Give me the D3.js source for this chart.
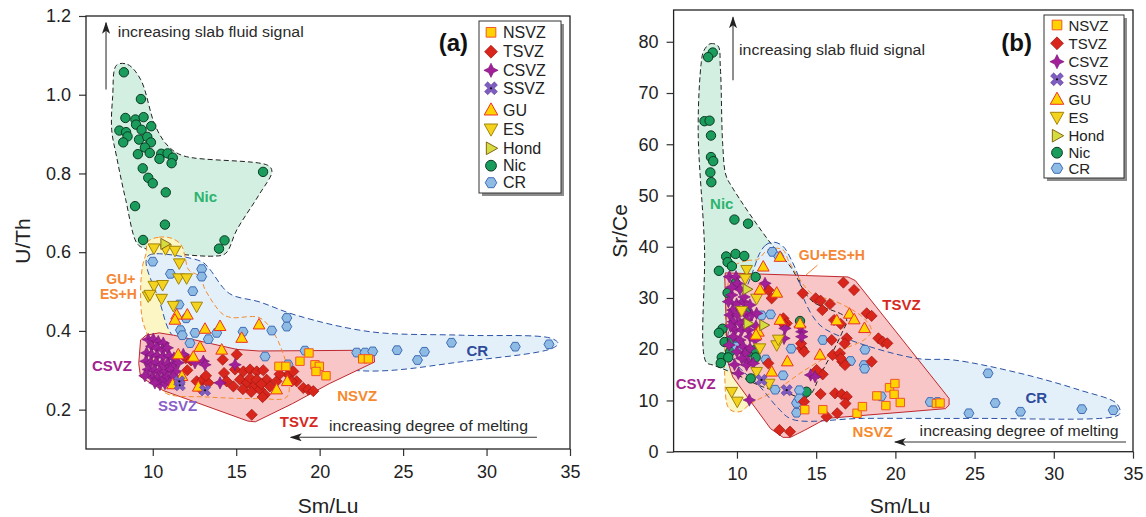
<!DOCTYPE html>
<html>
<head>
<meta charset="utf-8">
<script src="https://cdn.jsdelivr.net/npm/d3@7"></script>
<style>
  body { margin: 0; background: #fff; }
  text { font-family: "Liberation Sans", Arial, Helvetica, sans-serif; }
</style>
</head>
<body>
<svg id="chart" width="1146" height="517"></svg>
<script>
// ---------- shared ----------
var xTicks = [10, 15, 20, 25, 30, 35];
var uthTicks = [0.2, 0.4, 0.6, 0.8, 1.0, 1.2];
var srceTicks = [0, 10, 20, 30, 40, 50, 60, 70, 80];
var legendNames = ["NSVZ", "TSVZ", "CSVZ", "SSVZ", "GU", "ES", "Hond", "Nic", "CR"];

// ---------- panel (a): U/Th vs Sm/Lu ----------
var aNic = [[8.27,1.057],[9.29,0.989],[8.36,0.941],[8.96,0.937],[9.45,0.943],[9.0,0.924],[8.0,0.909],[8.4,0.905],[9.33,0.911],[9.91,0.92],[8.49,0.894],[8.23,0.879],[9.18,0.886],[9.67,0.893],[9.89,0.879],[9.53,0.866],[9.11,0.849],[9.82,0.852],[10.51,0.85],[10.89,0.851],[11.2,0.84],[10.4,0.837],[11.13,0.826],[9.4,0.813],[9.73,0.789],[10.0,0.775],[16.61,0.804],[10.78,0.752],[8.94,0.717],[10.73,0.67],[9.42,0.631],[14.3,0.63],[13.97,0.609]];
var aCR = [[10.0,0.576],[11.06,0.545],[12.93,0.557],[12.93,0.538],[12.4,0.501],[11.57,0.467],[12.0,0.432],[11.66,0.402],[11.77,0.389],[12.53,0.395],[12.23,0.369],[13.33,0.379],[13.83,0.395],[15.41,0.398],[17.13,0.401],[18.03,0.433],[18.03,0.411],[16.73,0.335],[19.12,0.35],[18.1,0.315],[22.22,0.345],[22.72,0.345],[23.18,0.348],[24.64,0.351],[25.86,0.326],[26.28,0.347],[27.9,0.37],[31.72,0.36],[33.74,0.366]];
var aGU = [[11.43,0.441],[11.33,0.428],[12.07,0.441],[13.13,0.405],[14.03,0.412],[15.33,0.382],[16.37,0.416],[12.83,0.359],[14.13,0.352],[11.53,0.34],[12.43,0.334],[11.19,0.264],[12.73,0.258],[17.42,0.251],[18.06,0.272],[11.75,0.285]];
var aES = [[10.07,0.61],[10.77,0.608],[11.33,0.604],[11.59,0.572],[11.55,0.534],[12.03,0.534],[10.07,0.515],[10.59,0.517],[9.73,0.488],[9.83,0.492],[10.53,0.482],[11.23,0.464],[12.63,0.462]];
var aHond = [[10.73,0.621]];
var aNSVZ = [[17.56,0.31],[17.98,0.31],[18.82,0.323],[19.36,0.344],[19.72,0.314],[19.98,0.31],[19.78,0.297],[20.38,0.286],[22.58,0.329],[22.92,0.329]];
var aTSVZ = [[11.99,0.331],[12.29,0.325],[12.07,0.3],[14.19,0.327],[14.27,0.293],[14.43,0.272],[12.63,0.272],[12.99,0.276],[13.33,0.268],[12.83,0.255],[13.19,0.286],[15.03,0.34],[14.93,0.302],[15.43,0.297],[15.83,0.302],[16.23,0.297],[16.62,0.3],[16.82,0.276],[15.23,0.276],[15.63,0.268],[16.03,0.258],[16.42,0.251],[16.72,0.238],[16.58,0.232],[17.02,0.259],[17.42,0.272],[18.12,0.289],[18.42,0.297],[18.62,0.272],[19.02,0.255],[19.32,0.251],[19.62,0.247],[15.93,0.187],[14.83,0.259],[15.83,0.28],[16.23,0.276],[18.32,0.272],[15.4,0.252],[15.9,0.245],[16.5,0.265],[17.6,0.29]];
var aCSVZ = [[9.73,0.378],[10.03,0.379],[10.33,0.373],[10.63,0.369],[9.93,0.361],[10.23,0.357],[10.59,0.352],[10.87,0.357],[9.63,0.344],[9.93,0.34],[10.27,0.337],[10.63,0.335],[10.99,0.337],[11.27,0.331],[9.59,0.323],[9.87,0.319],[10.19,0.32],[10.53,0.314],[10.87,0.317],[11.19,0.314],[11.53,0.319],[9.73,0.302],[10.07,0.3],[10.39,0.297],[10.73,0.297],[11.07,0.302],[11.39,0.297],[9.93,0.283],[10.27,0.28],[10.59,0.278],[10.87,0.283],[11.23,0.285],[10.43,0.264],[10.73,0.266],[10.13,0.268],[11.03,0.269],[9.53,0.286],[11.83,0.34],[12.53,0.319],[13.03,0.323],[13.13,0.314],[14.93,0.314],[14.03,0.268]];
var aSSVZ = [[11.59,0.272],[11.62,0.262],[13.13,0.249]];

var aNicHull = [[7.83,1.075],[8.49,1.077],[9.27,1.039],[10.16,0.92],[10.93,0.869],[11.82,0.845],[16.92,0.82],[17.14,0.805],[16.37,0.746],[15.04,0.657],[14.37,0.597],[13.7,0.59],[9.49,0.61],[9.05,0.623],[8.38,0.733],[7.83,0.843],[7.54,0.911],[7.6,0.996]];
var aGuHull = [[9.71,0.627],[10.38,0.638],[11.15,0.635],[11.71,0.618],[11.93,0.589],[12.15,0.555],[12.82,0.538],[13.15,0.504],[14.15,0.444],[14.7,0.434],[16.37,0.434],[17.14,0.402],[17.81,0.343],[18.14,0.283],[18.03,0.232],[16.37,0.228],[13.26,0.232],[10.82,0.241],[10.38,0.266],[9.71,0.385],[9.38,0.428],[9.27,0.495],[9.38,0.563],[9.6,0.597]];
var aCrHull = [[9.6,0.572],[9.71,0.59],[10.16,0.596],[12.93,0.576],[13.37,0.559],[14.59,0.495],[16.37,0.474],[18.58,0.44],[23.02,0.398],[28.57,0.389],[33.89,0.381],[34.29,0.368],[33.89,0.355],[28.57,0.322],[23.02,0.298],[17.48,0.326],[13.26,0.36],[11.26,0.385],[10.38,0.478]];
var aTsvzHull = [[9.6,0.389],[10.38,0.395],[11.26,0.389],[15.04,0.353],[16.37,0.349],[23.24,0.351],[23.29,0.321],[20.58,0.266],[18.36,0.215],[16.14,0.169],[15.7,0.171],[10.6,0.249],[9.27,0.283],[9.16,0.317],[9.27,0.377]];

var aLabels = [["Nic",13.15,0.742,"Nic"],["GU+",8.09,0.531,"GU"],["ES+H",7.94,0.495,"GU"],["CR",29.45,0.351,"CR"],["CSVZ",7.56,0.313,"CSVZ"],["SSVZ",11.49,0.211,"SSVZ"],["TSVZ",18.76,0.171,"TSVZ"],["NSVZ",22.25,0.236,"NSVZ"]];

// ---------- panel (b): Sr/Ce vs Sm/Lu ----------
var bNic = [[8.47,77.9],[8.18,77.0],[7.95,64.5],[8.27,64.6],[8.36,61.7],[8.36,57.5],[8.5,56.7],[8.32,54.5],[8.38,52.6],[9.84,45.3],[10.7,44.5],[9.32,38.1],[9.91,38.6],[10.46,38.2],[9.41,37.0],[9.68,36.2],[8.86,35.3],[11.18,34.1],[9.91,32.9],[9.41,31.0],[10.57,27.3],[9.09,24.0],[8.86,23.2],[9.22,21.4],[9.68,21.8],[9.57,19.5],[9.04,18.4],[9.45,18.4],[8.98,17.3],[10.75,19.5],[11.16,19.9],[11.18,18.4],[10.87,14.3],[13.98,25.5],[14.39,11.7]];
var bCR = [[12.23,39.0],[12.64,38.1],[11.55,26.6],[12.12,26.8],[13.42,20.1],[11.82,18.0],[12.91,14.9],[12.41,12.1],[13.76,9.5],[13.76,7.6],[13.94,12.0],[13.94,10.4],[15.42,21.8],[17.17,17.7],[18.08,19.9],[18.03,16.9],[18.06,16.2],[19.11,10.8],[10.0,20.5],[22.2,9.7],[22.66,9.7],[24.64,7.5],[25.85,15.3],[26.3,9.5],[27.9,7.8],[31.77,8.3],[33.75,8.1]];
var bGU = [[11.66,36.1],[12.72,38.0],[11.45,31.6],[12.51,31.0],[12.72,25.7],[11.35,23.4],[13.18,17.6],[15.24,18.9],[16.3,25.6],[17.1,26.9],[17.4,25.8],[18.05,24.1],[12.19,15.6],[13.98,25.0],[11.2,22.8]];
var bES = [[10.61,35.5],[10.52,33.8],[11.24,29.9],[12.51,20.8],[12.61,21.9],[11.45,20.2],[11.24,15.6],[12.03,13.3],[9.67,11.7],[10.02,9.8],[10.3,27.5]];
var bHond = [[10.64,31.7],[11.7,24.7],[10.7,25.0]];
var bNSVZ = [[14.28,8.2],[15.42,8.2],[17.58,7.5],[17.92,8.8],[18.83,10.9],[19.4,9.0],[19.63,12.5],[19.97,13.3],[19.92,11.2],[20.31,9.6],[22.59,9.4],[22.82,9.5]];
var bTSVZ = [[16.72,33.0],[17.39,31.55],[14.15,30.9],[14.97,29.93],[15.28,29.47],[15.87,28.82],[15.39,27.65],[12.19,29.93],[11.98,31.55],[12.93,26.02],[13.14,25.05],[14.09,20.17],[14.23,19.52],[15.98,21.8],[15.41,15.1],[15.03,15.94],[16.13,25.7],[16.55,24.92],[16.93,22.12],[16.04,18.87],[16.5,19.2],[16.65,17.57],[16.82,16.92],[16.55,18.22],[18.19,27.0],[18.5,26.5],[18.93,22.12],[19.2,21.47],[19.49,21.15],[18.5,17.57],[15.28,11.26],[16.19,11.39],[16.61,11.19],[16.93,10.74],[15.66,6.84],[14.23,9.76],[12.68,4.24],[13.35,3.91],[11.98,17.24],[16.85,9.4],[16.33,7.5],[16.8,21.1],[14.05,21.1],[13.0,24.7]];
var bCSVZ = [[9.52,34.15],[9.94,34.15],[10.02,32.85],[10.19,31.68],[9.67,30.58],[9.46,29.28],[9.98,28.82],[10.4,29.28],[10.82,28.63],[9.73,27.65],[9.56,26.67],[10.02,26.67],[10.51,27.0],[10.93,26.67],[11.24,27.0],[9.77,25.37],[10.19,25.05],[10.61,25.7],[9.88,23.75],[10.3,23.75],[10.72,23.75],[9.77,22.45],[10.19,21.8],[10.82,22.45],[11.14,21.8],[10.4,20.5],[10.82,20.17],[10.51,19.19],[10.3,18.22],[10.72,17.57],[10.61,16.92],[11.03,17.24],[10.09,15.29],[10.78,10.09],[11.77,32.85],[13.03,24.07],[14.09,23.42],[14.09,22.45],[13.98,24.4],[12.97,22.12],[14.65,14.97],[14.93,14.64],[9.67,32.07],[9.6,24.5],[10.0,19.5],[9.85,17.0],[11.2,24.5],[10.45,30.2],[9.5,20.8]];
var bSSVZ = [[11.55,14.0],[13.14,12.0]];

var bNicHull = [[7.9,78.2],[8.3,79.6],[8.8,79.2],[8.95,75],[9.1,60],[9.3,54],[9.7,51.6],[12.0,41.2],[13.4,36],[14.7,29.5],[16.9,26],[16.6,23],[15.2,14.6],[14.7,11.4],[14.2,10.4],[13.3,11.3],[11.6,12.7],[9.8,15.3],[8.5,16.9],[8.05,17.5],[7.95,40],[7.55,63],[7.75,76]];
var bGuHull = [[9.73,36.0],[10.64,37.3],[11.3,37.5],[12.0,39.5],[12.9,39.4],[13.3,37],[14.74,30.8],[16.1,29.5],[17.92,26.3],[18.49,23.7],[18.15,22.1],[16.1,19.2],[14.28,15.9],[12.46,12.0],[10.87,9.4],[10.18,7.8],[9.5,8.4],[9.23,14.6],[9.27,23.1],[9.39,31.5]];
var bCrHull = [[11.4,38.5],[11.8,40.3],[12.3,40.9],[12.9,40.1],[13.5,37],[13.9,34],[14.2,30],[15.24,24.7],[17.14,21.8],[21.35,18.2],[23.66,17.9],[27.87,15.3],[31.66,12.0],[33.97,9.4],[34.18,7.5],[33.76,6.8],[24.71,6.5],[18,6.5],[13.5,6.3],[12.6,8.5],[11.45,12.7],[10,17],[9.4,21],[9.8,27],[10.6,32],[11.1,36]];
var bTsvzHull = [[9.27,34.9],[17.01,34.1],[17.47,33.4],[23.39,10.4],[23.39,9.1],[23.16,8.4],[15.65,6.5],[14.28,4.2],[13.37,2.8],[12.91,2.8],[12.12,4.5],[9.73,14.6],[9.39,17.9],[9.23,34.0]];

var bLabels = [["Nic",9.04,48.4,"Nic"],["GU+ES+H",15.99,38.3,"GU"],["CSVZ",7.4,13.4,"CSVZ"],["TSVZ",20.38,28.8,"TSVZ"],["NSVZ",18.56,3.9,"NSVZ"],["CR",28.9,10.5,"CR"]];

// ---------- styles ----------
var FONT = '"Liberation Sans", Arial, Helvetica, sans-serif';

function hexPath(s) {
    var p = d3.range(6).map(function(i) { return [s * Math.cos(i * Math.PI / 3), s * Math.sin(i * Math.PI / 3)]; });
    return "M" + p.join("L") + "Z";
}
function xcrossPath(s) {
    var a = s * 0.32;
    var pts = [[-a,-s],[a,-s],[a,-a],[s,-a],[s,a],[a,a],[a,s],[-a,s],[-a,a],[-s,a],[-s,-a],[-a,-a]];
    var r = Math.SQRT1_2;
    return "M" + pts.map(function(p) { return [(p[0] - p[1]) * r, (p[0] + p[1]) * r]; }).join("L") + "Z";
}
var shapes = {
    square: function(s) { return "M" + (-s) + "," + (-s) + "H" + s + "V" + s + "H" + (-s) + "Z"; },
    diamond: function(s) { return "M0," + (-s) + "L" + s + ",0L0," + s + "L" + (-s) + ",0Z"; },
    star4: function(s) { var k = s * 0.33; return "M0," + (-s) + "L" + k + "," + (-k) + "L" + s + ",0L" + k + "," + k + "L0," + s + "L" + (-k) + "," + k + "L" + (-s) + ",0L" + (-k) + "," + (-k) + "Z"; },
    xcross: xcrossPath,
    triUp: function(s) { return "M0," + (-s) + "L" + (s * 0.95) + "," + (s * 0.7) + "L" + (-s * 0.95) + "," + (s * 0.7) + "Z"; },
    triDown: function(s) { return "M0," + s + "L" + (s * 0.95) + "," + (-s * 0.7) + "L" + (-s * 0.95) + "," + (-s * 0.7) + "Z"; },
    triRight: function(s) { return "M" + s + ",0L" + (-s * 0.7) + "," + (s * 0.95) + "L" + (-s * 0.7) + "," + (-s * 0.95) + "Z"; },
    hex: hexPath,
    circle: function(s) { return d3.symbol(d3.symbolCircle, Math.PI * s * s)(); }
};

var seriesStyle = {
    NSVZ: {shape: "square", s: 4.2, fill: "#ffd200", stroke: "#f0542a", sw: 1},
    TSVZ: {shape: "diamond", s: 5.6, fill: "#d8261c", stroke: "#9e1610", sw: 0.7},
    CSVZ: {shape: "star4", s: 6.2, fill: "#a1209a", stroke: "#761470", sw: 0.6},
    SSVZ: {shape: "xcross", s: 6, fill: "#7e5cc0", stroke: "#5a3c96", sw: 0.6},
    GU: {shape: "triUp", s: 6.2, fill: "#ffd400", stroke: "#ec3125", sw: 1},
    ES: {shape: "triDown", s: 6.2, fill: "#f4d31f", stroke: "#a2840a", sw: 1},
    Hond: {shape: "triRight", s: 5.8, fill: "#d4dc3f", stroke: "#86661a", sw: 1},
    Nic: {shape: "circle", s: 4.7, fill: "#1a9d5c", stroke: "#0c3a22", sw: 1},
    CR: {shape: "hex", s: 5, fill: "#8dbbe4", stroke: "#3f6cb5", sw: 1}
};
var regionStyle = {
    Nic: {fill: "#d3efe2", stroke: "#222", dash: "5,3"},
    GU: {fill: "#fbf6c4", stroke: "#f68b2c", dash: "5,3"},
    CR: {fill: "#e3f0f9", stroke: "#2c52a5", dash: "6,3.5"},
    TSVZ: {fill: "#f8c6c6", stroke: "#c1272d", dash: null}
};
var labelColor = {Nic: "#2db46e", GU: "#f58634", CR: "#2e4b9b", CSVZ: "#a3238e", SSVZ: "#8a5fc8", TSVZ: "#d7281e", NSVZ: "#f6892e"};
var drawOrder = ["Nic", "CR", "TSVZ", "NSVZ", "CSVZ", "ES", "GU", "Hond", "SSVZ"];

var panels = [
    {
        box: {l: 86, r: 570, t: 16, b: 449}, yDomain: [0.1, 1.2], yTicks: uthTicks, yFmt: d3.format(".1f"),
        yTitle: "U/Th", yTitleX: 30, yTitleY: 241, xTitleX: 328, tag: "(a)", tagX: 468, tagY: 51,
        legend: {x: 479, y: 21, w: 82, h: 172, rows: [32.3, 51.7, 70.3, 88.3, 110, 129, 148.3, 165.7, 182.7], mx: 491, tx: 503, fs: 16},
        series: {Nic: aNic, CR: aCR, TSVZ: aTSVZ, NSVZ: aNSVZ, CSVZ: aCSVZ, ES: aES, GU: aGU, Hond: aHond, SSVZ: aSSVZ},
        regions: {Nic: aNicHull, GU: aGuHull, CR: aCrHull, TSVZ: aTsvzHull},
        layers: [["Nic", "fill"], ["Nic", "stroke"], ["GU", "fill"], ["CR", "fill"], ["CR", "stroke"], ["TSVZ", "fill"], ["TSVZ", "stroke"], ["GU", "stroke"]],
        labels: aLabels, labelSize: 15,
        upArrow: [7.2, 1.013, 1.183], slabText: [7.9, 1.147],
        leftArrow: [33.02, 18.27, 0.1297], meltText: [20.56, 0.146],
        leader: null
    },
    {
        box: {l: 673.6, r: 1133, t: 10, b: 451.7}, yDomain: [0, 86.2], yTicks: srceTicks, yFmt: d3.format("d"),
        yTitle: "Sr/Ce", yTitleX: 627, yTitleY: 231, xTitleX: 900, tag: "(b)", tagX: 1032, tagY: 51,
        legend: {x: 1044, y: 15, w: 80, h: 163, rows: [25, 43.3, 61.7, 79.3, 99.3, 117.3, 135.7, 152.7, 168.3], mx: 1057, tx: 1068.5, fs: 15},
        series: {Nic: bNic, CR: bCR, TSVZ: bTSVZ, NSVZ: bNSVZ, CSVZ: bCSVZ, ES: bES, GU: bGU, Hond: bHond, SSVZ: bSSVZ},
        regions: {Nic: bNicHull, GU: bGuHull, CR: bCrHull, TSVZ: bTsvzHull},
        layers: [["GU", "fill"], ["Nic", "fill"], ["CR", "fill"], ["TSVZ", "fill"], ["Nic", "stroke"], ["CR", "stroke"], ["GU", "stroke"], ["TSVZ", "stroke"]],
        labels: bLabels, labelSize: 15,
        upArrow: [9.75, 72.5, 84.8], slabText: [10.13, 77.4],
        leftArrow: [34.56, 19.97, 1.89], meltText: [21.53, 3.06],
        leader: [[15.08, 36.4], [14.33, 34.4]]
    }
];

var svg = d3.select("#chart");
svg.append("rect").attr("width", 1146).attr("height", 517).attr("fill", "#fff");

var defs = svg.append("defs");
defs.append("marker")
    .attr("id", "head")
    .attr("viewBox", "0 0 12 8")
    .attr("refX", 11).attr("refY", 4)
    .attr("markerWidth", 12).attr("markerHeight", 8)
    .attr("markerUnits", "userSpaceOnUse")
    .attr("orient", "auto")
    .append("path")
    .attr("d", "M0,0L12,4L0,8L3,4Z")
    .attr("fill", "#222");

function drawPanel(p) {
    var x = d3.scaleLinear().domain([6, 35]).range([p.box.l, p.box.r]);
    var y = d3.scaleLinear().domain(p.yDomain).range([p.box.b, p.box.t]);
    var g = svg.append("g");

    // Shaded fields
    p.layers.forEach(function(layer) {
        var key = layer[0], st = regionStyle[key];
        var line = d3.line()
            .x(function(d) { return x(d[0]); })
            .y(function(d) { return y(d[1]); })
            .curve(key === "TSVZ" ? d3.curveLinearClosed : d3.curveCatmullRomClosed.alpha(0.5));
        var path = g.append("path").datum(p.regions[key]).attr("d", line);
        if (layer[1] === "fill") {
            path.attr("fill", st.fill).attr("stroke", "none");
        } else {
            path.attr("fill", "none").attr("stroke", st.stroke).attr("stroke-width", 1)
                .attr("stroke-linejoin", "round")
                .attr("stroke-dasharray", st.dash);
        }
    });

    if (p.leader) {
        g.append("line")
            .attr("x1", x(p.leader[0][0])).attr("y1", y(p.leader[0][1]))
            .attr("x2", x(p.leader[1][0])).attr("y2", y(p.leader[1][1]))
            .attr("stroke", labelColor.GU).attr("stroke-width", 1);
    }

    // Data points
    drawOrder.forEach(function(name) {
        var st = seriesStyle[name];
        var sel = g.selectAll(".pt-" + name)
            .data(p.series[name])
            .enter()
            .append("path")
            .attr("class", "pt-" + name)
            .attr("transform", function(d) { return "translate(" + x(d[0]) + "," + y(d[1]) + ")"; })
            .attr("d", shapes[st.shape](st.s))
            .attr("fill", st.fill)
            .attr("stroke", st.stroke)
            .attr("stroke-width", st.sw);
        if (name === "SSVZ") {
            g.selectAll(".dot-ssvz")
                .data(p.series[name])
                .enter()
                .append("circle")
                .attr("cx", function(d) { return x(d[0]); })
                .attr("cy", function(d) { return y(d[1]); })
                .attr("r", 1.1)
                .attr("fill", "#111");
        }
    });

    // Field labels
    g.selectAll(".fieldlab")
        .data(p.labels)
        .enter()
        .append("text")
        .attr("x", function(d) { return x(d[1]); })
        .attr("y", function(d) { return y(d[2]); })
        .attr("text-anchor", "middle")
        .attr("dominant-baseline", "central")
        .attr("font-weight", "bold")
        .attr("font-size", function(d) { return d[3] === "GU" ? 14 : p.labelSize; })
        .attr("fill", function(d) { return labelColor[d[3]]; })
        .text(function(d) { return d[0]; });

    // Trend arrows and notes
    g.append("line")
        .attr("x1", x(p.upArrow[0])).attr("y1", y(p.upArrow[1]))
        .attr("x2", x(p.upArrow[0])).attr("y2", y(p.upArrow[2]))
        .attr("stroke", "#333").attr("stroke-width", 1.1)
        .attr("marker-end", "url(#head)");
    g.append("text")
        .attr("x", x(p.slabText[0])).attr("y", y(p.slabText[1]))
        .attr("font-size", 15.5).attr("fill", "#2a2a2a")
        .attr("textLength", 186).attr("lengthAdjust", "spacingAndGlyphs")
        .text("increasing slab fluid signal");
    g.append("line")
        .attr("x1", x(p.leftArrow[0])).attr("y1", y(p.leftArrow[2]))
        .attr("x2", x(p.leftArrow[1])).attr("y2", y(p.leftArrow[2]))
        .attr("stroke", "#333").attr("stroke-width", 1.1)
        .attr("marker-end", "url(#head)");
    g.append("text")
        .attr("x", x(p.meltText[0])).attr("y", y(p.meltText[1]))
        .attr("font-size", 15.5).attr("fill", "#2a2a2a")
        .attr("textLength", 199).attr("lengthAdjust", "spacingAndGlyphs")
        .text("increasing degree of melting");

    // Axes
    var xAxis = g.append("g")
        .attr("transform", "translate(0," + p.box.b + ")")
        .call(d3.axisBottom(x).tickValues(xTicks).tickSize(7).tickPadding(9).tickFormat(d3.format("d")));
    var yAxis = g.append("g")
        .attr("transform", "translate(" + p.box.l + ",0)")
        .call(d3.axisLeft(y).tickValues(p.yTicks).tickSize(7).tickPadding(8).tickFormat(p.yFmt));
    [xAxis, yAxis].forEach(function(a) {
        a.select(".domain").remove();
        a.selectAll("line").attr("stroke", "#333").attr("stroke-width", 1.2);
        a.selectAll("text").attr("font-size", 18).attr("font-family", FONT).attr("fill", "#222");
    });

    // Frame
    g.append("rect")
        .attr("x", p.box.l).attr("y", p.box.t)
        .attr("width", p.box.r - p.box.l).attr("height", p.box.b - p.box.t)
        .attr("fill", "none").attr("stroke", "#222").attr("stroke-width", 1.3);

    // Axis titles
    g.append("text")
        .attr("x", p.xTitleX).attr("y", 513)
        .attr("text-anchor", "middle").attr("font-size", 21).attr("fill", "#222")
        .text("Sm/Lu");
    g.append("text")
        .attr("transform", "translate(" + p.yTitleX + "," + p.yTitleY + ") rotate(-90)")
        .attr("text-anchor", "middle").attr("font-size", 21).attr("fill", "#222")
        .text(p.yTitle);

    // Panel tag
    g.append("text")
        .attr("x", p.tagX).attr("y", p.tagY)
        .attr("text-anchor", "end").attr("font-size", 24).attr("font-weight", "bold").attr("fill", "#111")
        .text(p.tag);

    // Legend
    var L = p.legend;
    g.append("rect").attr("x", L.x + 3).attr("y", L.y + 3).attr("width", L.w).attr("height", L.h).attr("fill", "#8c8c8c");
    g.append("rect").attr("x", L.x).attr("y", L.y).attr("width", L.w).attr("height", L.h)
        .attr("fill", "#fff").attr("stroke", "#333").attr("stroke-width", 1);
    legendNames.forEach(function(name, i) {
        var st = seriesStyle[name];
        g.append("path")
            .attr("transform", "translate(" + L.mx + "," + L.rows[i] + ")")
            .attr("d", shapes[st.shape](st.s * 1.15))
            .attr("fill", st.fill).attr("stroke", st.stroke).attr("stroke-width", st.sw);
        if (name === "SSVZ") {
            g.append("circle").attr("cx", L.mx).attr("cy", L.rows[i]).attr("r", 1.1).attr("fill", "#111");
        }
        g.append("text")
            .attr("x", L.tx).attr("y", L.rows[i])
            .attr("dominant-baseline", "central")
            .attr("font-size", L.fs).attr("fill", "#222")
            .text(name);
    });
}

panels.forEach(drawPanel);
</script>
</body>
</html>
